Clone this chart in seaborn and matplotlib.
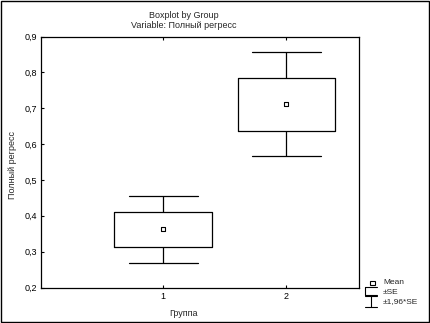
import numpy as np
import pandas as pd
import matplotlib
matplotlib.use("Agg")
import matplotlib.pyplot as plt
import seaborn as sns
from matplotlib.lines import Line2D
from matplotlib.patches import Rectangle

# values
groups = ["1", "2"]
means = [0.362, 0.711]
se = [0.048, 0.074]

# box = mean +- SE, whiskers = mean +- 1.96*SE
# five points per group give seaborn exactly these quartiles
rows = []
for g, m, s in zip(groups, means, se):
    for v in [m - 1.96 * s, m - s, m, m + s, m + 1.96 * s]:
        rows.append({"Группа": g, "Полный регресс": v})
df = pd.DataFrame(rows)
df_mean = pd.DataFrame({"Группа": groups, "Полный регресс": means})

sns.set_style("white")
plt.rcParams["font.family"] = ["Liberation Sans", "DejaVu Sans"]

fig = plt.figure(figsize=(4.3, 3.23), dpi=100)
ax = fig.add_axes([41 / 430, 1 - 287.5 / 323, 318 / 430, 251 / 323])

sns.boxplot(data=df, x="Группа", y="Полный регресс", whis=np.inf, width=0.79,
            fill=False, color="black", linewidth=0.9, showfliers=False,
            medianprops={"linewidth": 0}, ax=ax)
sns.scatterplot(data=df_mean, x="Группа", y="Полный регресс", marker="s", s=12,
                facecolor="white", edgecolor="black", linewidth=0.8, ax=ax, zorder=5)

# cap width of the whiskers
for ln in ax.lines:
    xd = np.asarray(ln.get_xdata(), dtype=float)
    yd = np.asarray(ln.get_ydata(), dtype=float)
    if len(xd) == 2 and yd[0] == yd[1] and xd[0] != xd[1]:
        c = xd.mean()
        ln.set_xdata([c - 0.28, c + 0.28])

ax.set_xlim(-0.99, 1.59)
ax.set_ylim(0.2, 0.9)
ax.set_yticks(np.arange(0.2, 0.91, 0.1))
ax.set_yticklabels([f"{v:.1f}".replace(".", ",") for v in np.arange(0.2, 0.91, 0.1)])
ax.tick_params(axis="both", direction="in", length=2, width=0.8, labelsize=6.5,
               colors="black", pad=3, top=True, bottom=True, left=True)
for sp in ax.spines.values():
    sp.set_color("black")
    sp.set_linewidth(0.9)
ax.set_xlabel("Группа", fontsize=6.5)
ax.set_ylabel("Полный регресс", fontsize=6.5)
ax.xaxis.set_label_coords(0.447, -0.102)
ax.yaxis.set_label_coords(-0.091, 0.49)
ax.xaxis.label.set_va("center")
ax.yaxis.label.set_va("center")

fig.text(184 / 430, 1 - 15 / 323, "Boxplot by Group", ha="center", va="center", fontsize=6.5)
fig.text(184 / 430, 1 - 25 / 323, "Variable: Полный регресс", ha="center", va="center", fontsize=6.5)

# legend drawn by hand
tr = fig.transFigure
def px(x, y):
    return x / 430, 1 - y / 323

def seg(p0, p1):
    a, b = px(*p0), px(*p1)
    fig.add_artist(Line2D([a[0], b[0]], [a[1], b[1]], transform=tr,
                          color="black", linewidth=0.8))

fig.add_artist(Rectangle(px(369.5, 285), 5 / 430, 4 / 323, transform=tr, fill=False,
                         edgecolor="black", linewidth=0.8))
fig.text(*px(383, 283), "Mean", fontsize=6, va="center")
# +-SE symbol
seg((365, 287), (377, 287))
seg((365, 287), (365, 295))
seg((365, 295), (377, 295))
fig.text(*px(383, 292), "±SE", fontsize=6, va="center")
# +-1.96*SE symbol
seg((365, 296), (377, 296))
seg((371, 296), (371, 307))
seg((365, 307), (377, 307))
fig.text(*px(383, 302), "±1,96*SE", fontsize=6, va="center")

fig.add_artist(Rectangle((0.002, 0.003), 0.995, 0.994, transform=tr, fill=False,
                         edgecolor="black", linewidth=1))

fig.savefig("out.png", dpi=100)
